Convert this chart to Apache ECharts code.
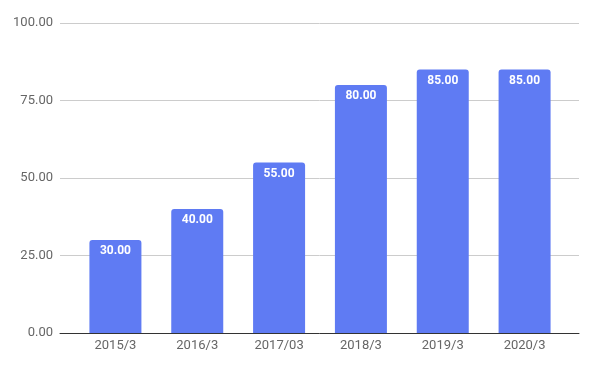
<!DOCTYPE html>
<html><head><meta charset="utf-8">
<script src="https://cdn.jsdelivr.net/npm/echarts@6/dist/echarts.min.js"></script>
<style>html,body{margin:0;padding:0;background:#fff}#c{width:594px;height:369px}</style>
</head><body><div id="c"></div>
<script>
const categories = ['2015/3','2016/3','2017/03','2018/3','2019/3','2020/3'];
const values = [30, 40, 55, 80, 85, 85];
const yTicks = [0, 25, 50, 75, 100];

const chart = echarts.init(document.getElementById('c'), null, {renderer:'canvas'});
chart.setOption({
  animation:false,
  backgroundColor:'#fff',
  grid:[
    {left:60, right:15, top:23, bottom:36},
    {left:74.5, width:491, top:23, bottom:36}
  ],
  xAxis:[
    {gridIndex:0, type:'category', data:categories, axisLabel:{show:false}, axisTick:{show:false},
     axisLine:{lineStyle:{color:'#333', width:1}}, splitLine:{show:false}},
    {gridIndex:1, type:'category', data:categories, axisTick:{show:false}, axisLine:{show:false},
     axisLabel:{color:'#666', fontFamily:'Roboto', fontSize:13, margin:6}}
  ],
  yAxis:[
    {gridIndex:0, type:'value', min:yTicks[0], max:yTicks[yTicks.length-1], interval:25,
     axisLine:{show:false}, axisTick:{show:false},
     axisLabel:{color:'#666', fontFamily:'Roboto', fontSize:13, margin:7, formatter:v=>v.toFixed(2)},
     splitLine:{lineStyle:{color:'#ccc', width:1}}},
    {gridIndex:1, type:'value', min:0, max:100, interval:25, show:false}
  ],
  series:[{
    type:'bar', xAxisIndex:1, yAxisIndex:1, data:values, barWidth:52,
    itemStyle:{color:'#5f7bf3', borderRadius:[3,3,0,0]},
    label:{show:true, position:'insideTop', distance:5, color:'#fff', fontWeight:'bold',
      fontFamily:'Roboto', fontSize:12, formatter:p=>p.value.toFixed(2)}
  }]
});
</script></body></html>
